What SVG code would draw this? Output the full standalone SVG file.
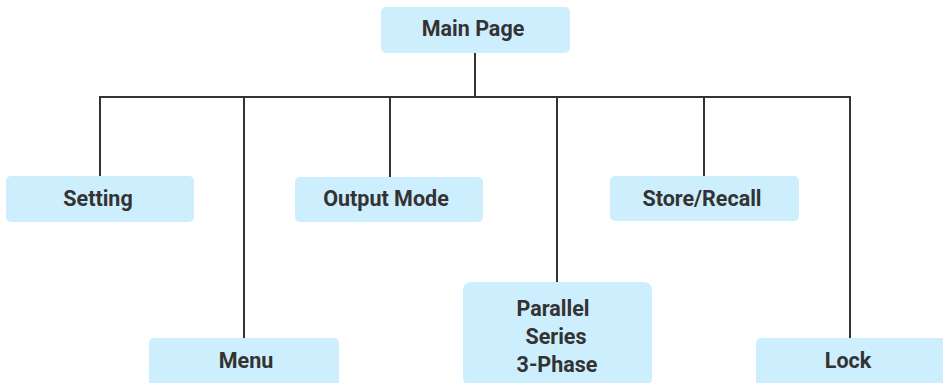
<svg xmlns="http://www.w3.org/2000/svg" width="943" height="383" viewBox="0 0 943 383">
<style>
.box{fill:#cdeefd;}
.t{font-family:Roboto,"Liberation Sans",sans-serif;font-weight:bold;font-size:21.5px;fill:#333333;text-anchor:middle;}
.c{stroke:#333333;stroke-width:2;fill:none;}
</style>
<rect width="943" height="383" fill="#ffffff"/>
<g id="connectors" class="c">
<line x1="475" y1="53" x2="475" y2="97"/>
<line x1="99" y1="97" x2="851" y2="97"/>
<line x1="100" y1="97" x2="100" y2="176"/>
<line x1="244" y1="97" x2="244" y2="338"/>
<line x1="390" y1="97" x2="390" y2="177"/>
<line x1="557" y1="97" x2="557" y2="282"/>
<line x1="704" y1="97" x2="704" y2="176"/>
<line x1="850" y1="97" x2="850" y2="338"/>
</g>
<g id="main"><rect class="box" x="381" y="7" width="189" height="46" rx="5"/><text class="t" x="473" y="36">Main Page</text></g>
<g id="setting"><rect class="box" x="6" y="176" width="188" height="46" rx="5"/><text class="t" x="98" y="206">Setting</text></g>
<g id="menu"><rect class="box" x="149" y="338" width="190" height="48" rx="5"/><text class="t" x="246" y="368">Menu</text></g>
<g id="output"><rect class="box" x="295" y="177" width="188" height="45" rx="5"/><text class="t" x="386" y="206">Output Mode</text></g>
<g id="parallel"><rect class="box" x="463" y="282" width="189" height="104" rx="8"/><text class="t" x="553" y="316">Parallel</text><text class="t" x="556" y="344">Series</text><text class="t" x="557" y="372">3-Phase</text></g>
<g id="store"><rect class="box" x="610" y="176" width="189" height="45" rx="5"/><text class="t" x="702" y="206">Store/Recall</text></g>
<g id="lock"><rect class="box" x="756" y="338" width="190" height="48" rx="5"/><text class="t" x="848" y="368">Lock</text></g>
</svg>
